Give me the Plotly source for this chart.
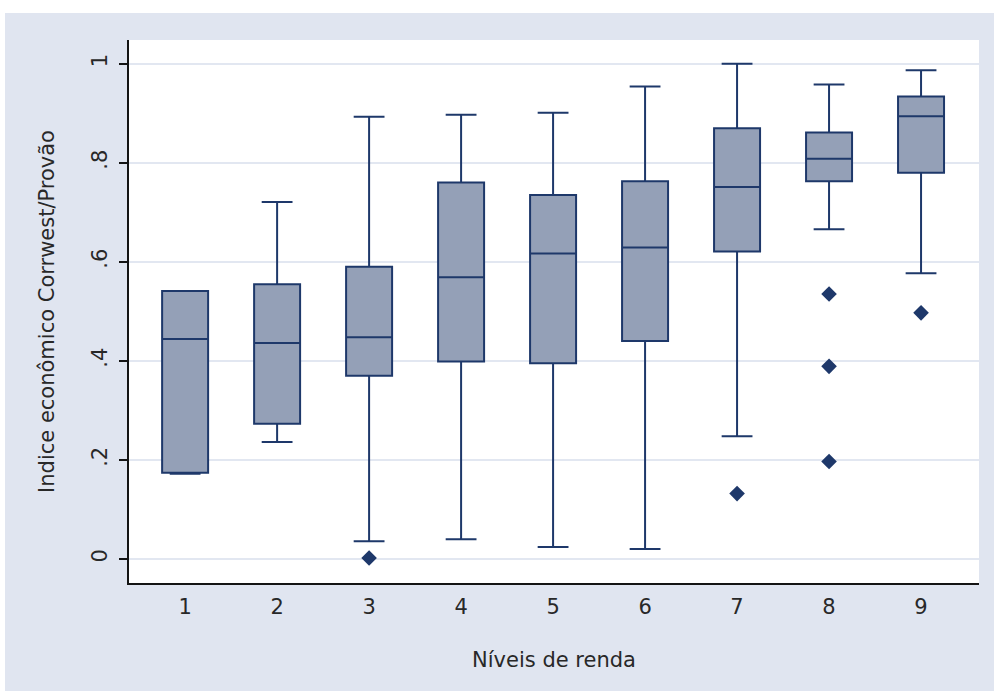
import plotly.graph_objects as go

# Income levels and summary statistics of the economic index
niveis = [1, 2, 3, 4, 5, 6, 7, 8, 9]
lower_fence = [0.172, 0.236, 0.036, 0.040, 0.024, 0.020, 0.248, 0.666, 0.577]
q1 = [0.174, 0.273, 0.370, 0.399, 0.395, 0.440, 0.621, 0.763, 0.780]
medians = [0.444, 0.436, 0.448, 0.569, 0.617, 0.629, 0.751, 0.808, 0.894]
q3 = [0.541, 0.555, 0.590, 0.760, 0.735, 0.763, 0.870, 0.861, 0.934]
upper_fence = [0.541, 0.721, 0.893, 0.897, 0.901, 0.954, 1.000, 0.958, 0.987]

# Outlying observations
outlier_x = [3, 7, 8, 8, 8, 9]
outlier_y = [0.002, 0.132, 0.535, 0.389, 0.197, 0.497]

y_ticks = [0, 0.2, 0.4, 0.6, 0.8, 1.0]
y_tick_labels = ["0", ".2", ".4", ".6", ".8", "1"]

NAVY = "rgb(30,56,106)"
FILL = "rgb(148,160,183)"
PANEL = "rgb(224,229,240)"
GRID = "rgb(226,231,241)"
FONT = "DejaVu Sans"

W, H = 994, 691
ML, MR, MT, MB = 129, 15, 40, 108
pw, ph = W - ML - MR, H - MT - MB

fig = go.Figure()
fig.add_trace(go.Box(
    x=niveis,
    q1=q1,
    median=medians,
    q3=q3,
    lowerfence=lower_fence,
    upperfence=upper_fence,
    boxpoints=False,
    width=0.5,
    whiskerwidth=0.67,
    fillcolor=FILL,
    line=dict(color=NAVY, width=2),
    showlegend=False,
))
fig.add_trace(go.Scatter(
    x=outlier_x,
    y=outlier_y,
    mode="markers",
    marker=dict(symbol="diamond", size=12, color=NAVY),
    showlegend=False,
))

# White border around the grey panel (top and left edges)
fig.add_shape(type="rect", xref="paper", yref="paper",
              x0=-0.3, x1=1.2, y0=1 + (MT - 13) / ph, y1=1.3,
              fillcolor="white", line_width=0, layer="below")
fig.add_shape(type="rect", xref="paper", yref="paper",
              x0=-0.3, x1=(5 - ML) / pw, y0=-0.5, y1=1.3,
              fillcolor="white", line_width=0, layer="below")

fig.update_layout(
    width=W, height=H,
    margin=dict(l=ML, r=MR, t=MT, b=MB, autoexpand=False),
    paper_bgcolor=PANEL,
    plot_bgcolor="white",
    font=dict(family=FONT, size=21, color="rgb(40,40,40)"),
    xaxis=dict(
        range=[0.39, 9.63],
        tickvals=niveis,
        ticktext=[str(n) for n in niveis],
        ticks="",
        ticklabelstandoff=4,
        showgrid=False,
        zeroline=False,
        showline=True, linecolor="rgb(20,20,20)", linewidth=2,
        tickfont=dict(size=21),
        title=dict(text="Níveis de renda", font=dict(size=21), standoff=34),
    ),
    yaxis=dict(
        range=[-0.0485, 1.048],
        tickvals=y_ticks,
        ticktext=y_tick_labels,
        tickangle=-90,
        ticks="outside", ticklen=8, tickwidth=2, tickcolor="rgb(20,20,20)",
        ticklabelstandoff=4,
        showgrid=True, gridcolor=GRID, gridwidth=2,
        zeroline=False,
        showline=True, linecolor="rgb(20,20,20)", linewidth=2,
        tickfont=dict(size=21),
        title=dict(text="Indice econômico Corrwest/Provão", font=dict(size=21), standoff=27),
    ),
)

fig.write_html("out.html")
